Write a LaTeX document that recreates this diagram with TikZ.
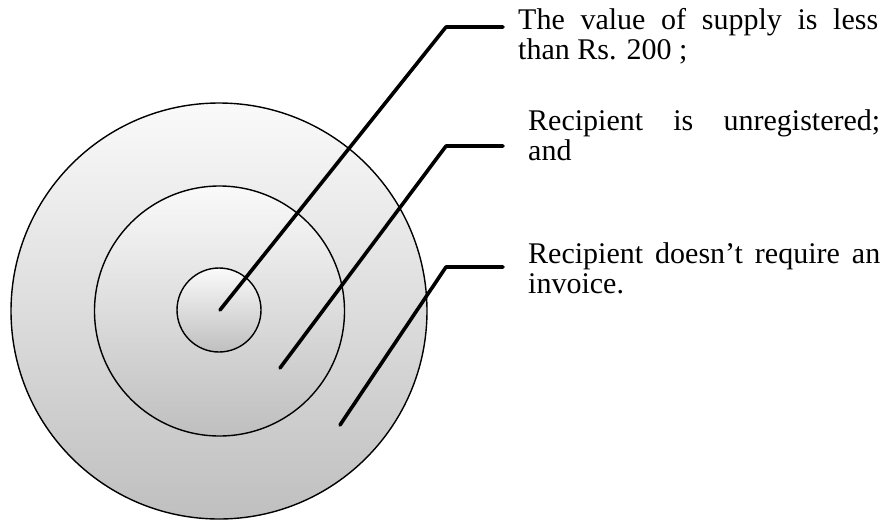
\documentclass[tikz,border=0pt]{standalone}
\usepackage{fontspec}
\setmainfont{Liberation Serif}
\usetikzlibrary{positioning}
\tikzset{
  ring/.style={circle, draw=black, line width=1.4pt, top color=black!2, bottom color=black!25, inner sep=0pt},
  leader/.style={line width=3.6pt, line cap=round, line join=round},
  note/.style={anchor=base west, inner sep=0pt, align=justify, font=\fontsize{30}{30}\selectfont}
}

\begin{document}
\begin{tikzpicture}[x=1pt,y=-1pt]
  \useasboundingbox (0,0) rectangle (887,523);
  % the three nested rings
  \node[ring, minimum size=416pt] (outer) at (219,311) {};
  \node[ring, minimum size=250pt] (middle) at (219.5,311) {};
  \node[ring, minimum size=84pt] (inner) at (219,310) {};
  % feet of the leaders, one in each ring
  \coordinate (foot1) at (220,310);
  \coordinate (foot2) at (280,368);
  \coordinate (foot3) at (340,425);
  % bends and tips of the leaders
  \coordinate (bend1) at (446,27);  \coordinate (tip1) at (503,27);
  \coordinate (bend2) at (446,146); \coordinate (tip2) at (503,146);
  \coordinate (bend3) at (446,267); \coordinate (tip3) at (503,267);
  % the notes
  \node[note, text width=360pt] (note1) at (518,29) {The value of supply is less\linebreak than Rs. 200 ;};
  \node[note, text width=352pt] (note2) at (528,130) {Recipient is unregistered;\linebreak and};
  \node[note, text width=352pt] (note3) at (528,263) {Recipient doesn’t require an\linebreak invoice.};
  % leaders from the rings to the notes
  \draw[leader] (foot1) -- (bend1) -- (tip1);
  \draw[leader] (foot2) -- (bend2) -- (tip2);
  \draw[leader] (foot3) -- (bend3) -- (tip3);
\end{tikzpicture}
\end{document}
